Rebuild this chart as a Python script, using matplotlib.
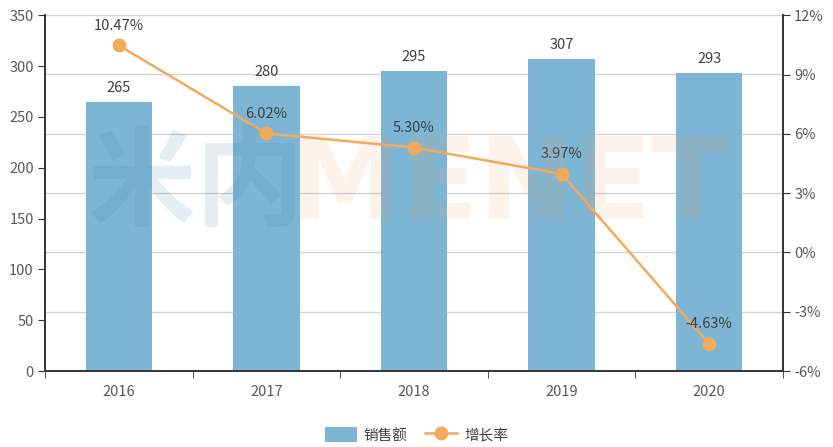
import matplotlib
matplotlib.use("Agg")
import matplotlib.pyplot as plt
from matplotlib.patches import Patch
from matplotlib.lines import Line2D
from matplotlib.ticker import FuncFormatter

plt.rcParams['font.family'] = ['Noto Sans CJK SC', 'DejaVu Sans']

years = ['2016', '2017', '2018', '2019', '2020']
sales = [265, 280, 295, 307, 293]
growth = [10.47, 6.02, 5.30, 3.97, -4.63]
growth_labels = ['10.47%', '6.02%', '5.30%', '3.97%', '-4.63%']

bar_color = '#7db6d4'
line_color = '#f2aa5c'
text_color = '#404040'
tick_color = '#595959'

fig = plt.figure(figsize=(8.33, 4.47), dpi=100)
ax = fig.add_axes([0.054, 0.170, 0.886, 0.796])
ax2 = ax.twinx()

x = list(range(len(years)))
ax.bar(x, sales, width=0.45, color=bar_color, zorder=2)
ax.set_xlim(-0.5, 4.5)
ax.set_ylim(0, 350)
ax.set_yticks(range(0, 351, 50))
ax.set_xticks(x)
ax.set_xticklabels(years)
ax.set_xticks([i + 0.5 for i in range(-1, 5)], minor=True)
ax.tick_params(axis='x', which='major', length=0, pad=10, labelsize=10.5, labelcolor=tick_color)
ax.tick_params(axis='x', which='minor', length=5, color='#333333')
ax.tick_params(axis='y', length=5, color='#333333', labelsize=10.5, labelcolor=tick_color, pad=3)

for xi, v in zip(x, sales):
    ax.annotate(str(v), (xi, v), xytext=(0, 5), textcoords='offset points',
                ha='center', va='bottom', fontsize=10.5, color=text_color, zorder=5)

ax2.set_ylim(-6, 12)
ax2.set_yticks(range(-6, 13, 3))
ax2.yaxis.set_major_formatter(FuncFormatter(lambda v, p: f'{int(v)}%'))
ax2.tick_params(axis='y', length=5, color='#333333', labelsize=10.5, labelcolor=tick_color, pad=3)

# gridlines at the right-axis ticks, drawn behind the bars
for t in range(-3, 13, 3):
    ax.axhline((t + 6) / 18 * 350, color='#d4d4d4', linewidth=1, zorder=0)

ax2.plot(x, growth, color=line_color, linewidth=1.8, marker='o', markersize=9, zorder=4)
for xi, v, lab in zip(x, growth, growth_labels):
    ax2.annotate(lab, (xi, v), xytext=(0, 9), textcoords='offset points',
                 ha='center', va='bottom', fontsize=10.5, color=text_color, zorder=5)

for a in (ax, ax2):
    a.spines['top'].set_visible(False)
    for s in ('left', 'right', 'bottom'):
        a.spines[s].set_color('#333333')
        a.spines[s].set_linewidth(1.2)

# watermark
fig.text(0.105, 0.585, '米内', fontsize=78, fontweight='bold', color='#3a7fa8',
         alpha=0.13, ha='left', va='center', zorder=10)
fig.text(0.345, 0.58, 'MENET', fontsize=82, fontweight='bold', color='#f4a460',
         alpha=0.12, ha='left', va='center', zorder=10, family='DejaVu Sans')

handles = [Patch(facecolor=bar_color, edgecolor='none', label='销售额'),
           Line2D([0], [0], color=line_color, linewidth=1.8, marker='o', markersize=9, label='增长率')]
leg = fig.legend(handles=handles, loc='center', bbox_to_anchor=(0.5, 0.027), ncol=2,
                 frameon=False, fontsize=10.5, handlelength=2.2, handleheight=1.2,
                 columnspacing=1.2, handletextpad=0.5)
for t in leg.get_texts():
    t.set_color(text_color)

fig.savefig('out.png', dpi=100)
